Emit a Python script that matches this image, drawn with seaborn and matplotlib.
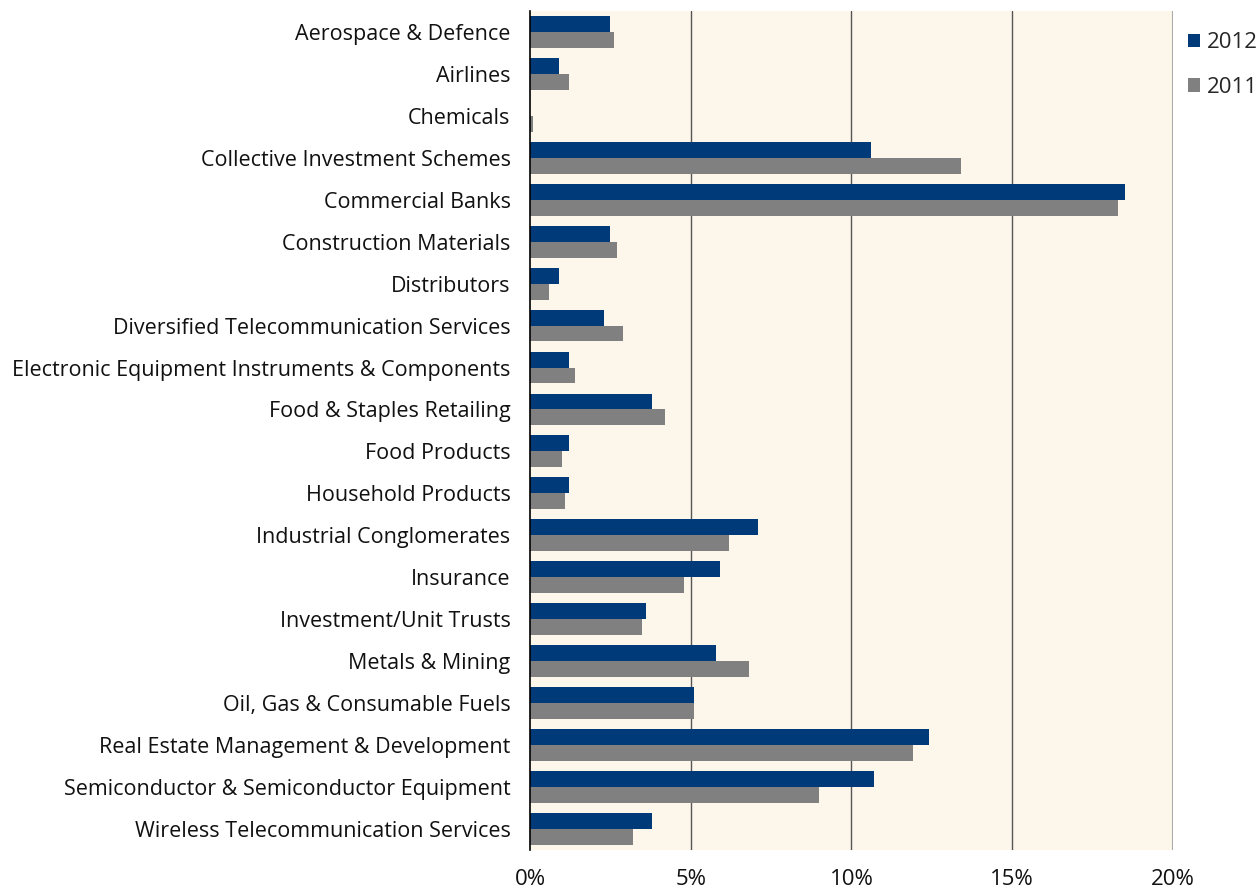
import pandas as pd
import seaborn as sns
import matplotlib.pyplot as plt
from matplotlib.ticker import FuncFormatter

# Data (% of portfolio)
SECTORS = [
    "Aerospace & Defence", "Airlines", "Chemicals", "Collective Investment Schemes",
    "Commercial Banks", "Construction Materials", "Distributors",
    "Diversified Telecommunication Services",
    "Electronic Equipment Instruments & Components", "Food & Staples Retailing",
    "Food Products", "Household Products", "Industrial Conglomerates", "Insurance",
    "Investment/Unit Trusts", "Metals & Mining", "Oil, Gas & Consumable Fuels",
    "Real Estate Management & Development",
    "Semiconductor & Semiconductor Equipment", "Wireless Telecommunication Services",
]
VALUES_2012 = [2.5, 0.9, 0.0, 10.6, 18.5, 2.5, 0.9, 2.3, 1.2, 3.8,
               1.2, 1.2, 7.1, 5.9, 3.6, 5.8, 5.1, 12.4, 10.7, 3.8]
VALUES_2011 = [2.6, 1.2, 0.1, 13.4, 18.3, 2.7, 0.6, 2.9, 1.4, 4.2,
               1.0, 1.1, 6.2, 4.8, 3.5, 6.8, 5.1, 11.9, 9.0, 3.2]
YEARS = ["2012", "2011"]
COLORS = {"2012": "#003A78", "2011": "#808080"}

df = pd.concat([
    pd.DataFrame({"sector": SECTORS, "value": VALUES_2012, "year": "2012"}),
    pd.DataFrame({"sector": SECTORS, "value": VALUES_2011, "year": "2011"}),
])

sns.set_style("white")
plt.rcParams["font.family"] = ["Open Sans", "DejaVu Sans"]

fig = plt.figure(figsize=(12.6, 8.91), dpi=100)
ax = fig.add_axes([0.4206, 0.046, 0.5103, 0.9418])
ax.set_facecolor("#FDF6EA")

sns.barplot(data=df, x="value", y="sector", hue="year", hue_order=YEARS,
            order=SECTORS, palette=COLORS, orient="h", width=0.76,
            saturation=1, linewidth=0, ax=ax, legend=True)

ax.set_xlim(0, 20)
ax.set_xticks([0, 5, 10, 15, 20])
ax.xaxis.set_major_formatter(FuncFormatter(lambda v, _: f"{v:.0f}%"))
for xv in [5, 10, 15]:
    ax.axvline(xv, color="#555555", lw=1, zorder=0)
ax.axvline(20, color="#AAAAAA", lw=1.5, zorder=0)

for s in ["top", "right", "bottom"]:
    ax.spines[s].set_visible(False)
ax.spines["left"].set_color("black")
ax.spines["left"].set_linewidth(1.2)

ax.set_xlabel("")
ax.set_ylabel("")
ax.tick_params(axis="y", length=0, pad=14, labelsize=15.5, labelcolor="#111111")
ax.tick_params(axis="x", length=0, pad=14, labelsize=16, labelcolor="#111111")

leg = ax.legend(loc="upper left", bbox_to_anchor=(1.01, 0.985), frameon=False,
                fontsize=16, handlelength=0.55, handleheight=0.55,
                handletextpad=0.3, labelspacing=1.05, borderaxespad=0)

fig.savefig("out.png", dpi=100)
